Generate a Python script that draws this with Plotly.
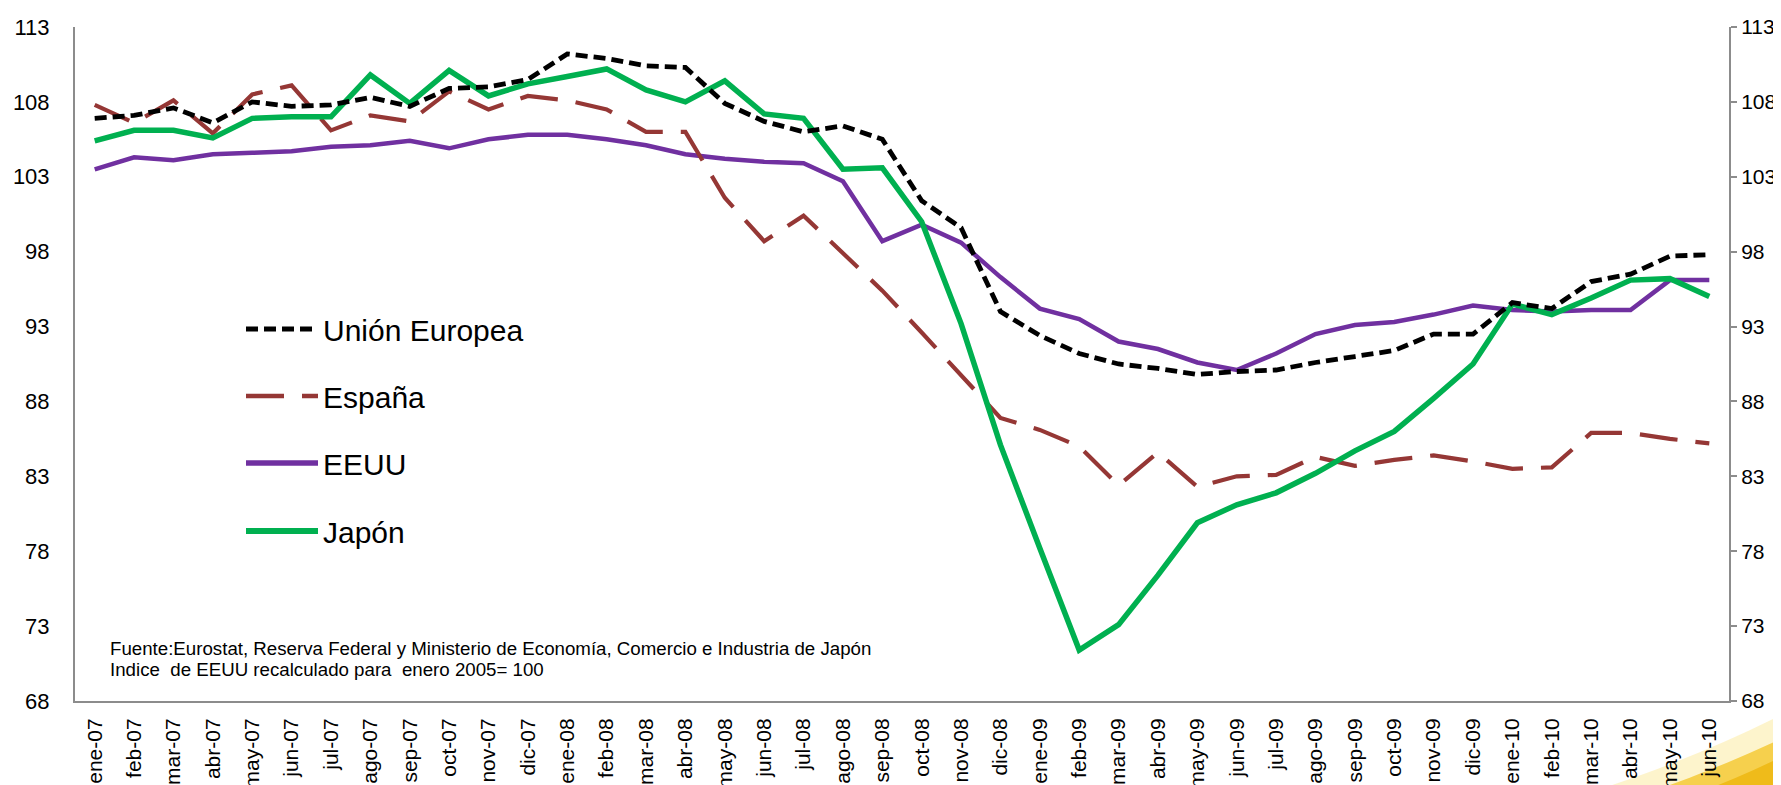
import plotly.graph_objects as go

months = ["ene-07","feb-07","mar-07","abr-07","may-07","jun-07","jul-07","ago-07","sep-07","oct-07","nov-07","dic-07",
          "ene-08","feb-08","mar-08","abr-08","may-08","jun-08","jul-08","ago-08","sep-08","oct-08","nov-08","dic-08",
          "ene-09","feb-09","mar-09","abr-09","may-09","jun-09","jul-09","ago-09","sep-09","oct-09","nov-09","dic-09",
          "ene-10","feb-10","mar-10","abr-10","may-10","jun-10"]

union_europea = [106.9,107.1,107.6,106.6,108.0,107.7,107.8,108.3,107.7,108.9,109.0,109.5,
                 111.2,110.9,110.4,110.3,107.9,106.7,106.0,106.4,105.5,101.4,99.6,94.0,
                 92.4,91.2,90.5,90.2,89.8,90.0,90.1,90.6,91.0,91.4,92.5,92.5,
                 94.6,94.2,96.0,96.5,97.7,97.8]
espana = [107.8,106.6,108.1,105.9,108.5,109.1,106.1,107.1,106.7,108.7,107.5,108.4,
          108.1,107.5,106.0,106.0,101.6,98.7,100.4,97.9,95.4,92.6,89.8,86.9,
          86.1,85.0,82.4,84.6,82.3,83.0,83.1,84.3,83.7,84.1,84.4,84.0,
          83.5,83.6,85.9,85.9,85.5,85.2]
eeuu = [103.5,104.3,104.1,104.5,104.6,104.7,105.0,105.1,105.4,104.9,105.5,105.8,
        105.8,105.5,105.1,104.5,104.2,104.0,103.9,102.7,98.7,99.8,98.6,96.3,
        94.2,93.5,92.0,91.5,90.6,90.1,91.2,92.5,93.1,93.3,93.8,94.4,
        94.1,94.0,94.1,94.1,96.1,96.1]
japon = [105.4,106.1,106.1,105.6,106.9,107.0,107.0,109.8,107.9,110.1,108.4,109.2,
         109.7,110.2,108.8,108.0,109.4,107.2,106.9,103.5,103.6,100.0,93.2,85.1,
         78.2,71.4,73.1,76.4,79.9,81.1,81.9,83.2,84.7,86.0,88.2,90.5,
         94.5,93.8,94.9,96.1,96.2,95.0]

y_ticks = [68, 73, 78, 83, 88, 93, 98, 103, 108, 113]
legend_names = ["Unión Europea", "España", "EEUU", "Japón"]
footnotes = ["Fuente:Eurostat, Reserva Federal y Ministerio de Economía, Comercio e Industria de Japón",
             "Indice  de EEUU recalculado para  enero 2005= 100"]

COL_EU = "#000000"
COL_ES = "#953735"
COL_US = "#7030A0"
COL_JP = "#00B050"
DASH_EU = "12px,6px"
DASH_ES = "38px,18px"
FONT = "Arial, Liberation Sans, sans-serif"
AXIS_COL = "#8C8C8C"

W, H = 1781, 785
L, R, T, B = 67, 60, 19, 92
pw, ph = W - L - R, H - T - B

def px2x(px):
    return (px - L) / pw

def px2y(py):
    return (H - B - py) / ph

fig = go.Figure()
fig.add_trace(go.Scatter(x=months, y=eeuu, mode="lines", name=legend_names[2],
                         line=dict(color=COL_US, width=4.5), showlegend=False))
fig.add_trace(go.Scatter(x=months, y=espana, mode="lines", name=legend_names[1],
                         line=dict(color=COL_ES, width=4.2, dash=DASH_ES), showlegend=False))
fig.add_trace(go.Scatter(x=months, y=japon, mode="lines", name=legend_names[3],
                         line=dict(color=COL_JP, width=5.5), showlegend=False))
fig.add_trace(go.Scatter(x=months, y=union_europea, mode="lines", name=legend_names[0],
                         line=dict(color=COL_EU, width=4.8, dash=DASH_EU), showlegend=False))
# invisible trace to activate the right-hand axis
fig.add_trace(go.Scatter(x=months, y=union_europea, mode="lines", yaxis="y2",
                         line=dict(width=0, color="rgba(0,0,0,0)"), hoverinfo="skip", showlegend=False))

shapes = []
# decorative yellow swoosh (bottom-right)
shapes.append(dict(type="path", xref="paper", yref="paper", layer="below",
                   path=f"M {px2x(1580)},{px2y(785)} Q {px2x(1690)},{px2y(750)} {px2x(1781)},{px2y(703)} L {px2x(1781)},{px2y(785)} Z",
                   fillcolor="rgba(251,236,170,0.6)", line=dict(width=0)))
shapes.append(dict(type="path", xref="paper", yref="paper", layer="below",
                   path=f"M {px2x(1640)},{px2y(785)} Q {px2x(1712)},{px2y(760)} {px2x(1781)},{px2y(727)} L {px2x(1781)},{px2y(785)} Z",
                   fillcolor="#F6D04D", line=dict(width=0)))
shapes.append(dict(type="path", xref="paper", yref="paper", layer="below",
                   path=f"M {px2x(1690)},{px2y(785)} Q {px2x(1740)},{px2y(766)} {px2x(1781)},{px2y(745)} L {px2x(1781)},{px2y(785)} Z",
                   fillcolor="#EFBB1A", line=dict(width=0)))

# manual legend
leg_y = [321, 388, 455, 523]
leg_style = [(COL_EU, 4.8, DASH_EU), (COL_ES, 4.5, DASH_ES), (COL_US, 5.5, "solid"), (COL_JP, 6, "solid")]
annotations = []
for name, yy, (c, w, d) in zip(legend_names, leg_y, leg_style):
    shapes.append(dict(type="line", xref="paper", yref="paper",
                       x0=px2x(238), x1=px2x(310), y0=px2y(yy), y1=px2y(yy),
                       line=dict(color=c, width=w, dash=d)))
    annotations.append(dict(xref="paper", yref="paper", x=px2x(313), y=px2y(yy + 1),
                            text=name, showarrow=False, xanchor="left", yanchor="middle",
                            font=dict(family=FONT, size=30, color="#000000")))

for txt, yy in zip(footnotes, [640, 661]):
    annotations.append(dict(xref="paper", yref="paper", x=px2x(100), y=px2y(yy),
                            text=txt, showarrow=False, xanchor="left", yanchor="middle",
                            font=dict(family=FONT, size=18.7, color="#000000")))

fig.update_layout(
    width=W, height=H,
    margin=dict(l=L, r=R, t=T, b=B, pad=0),
    paper_bgcolor="white", plot_bgcolor="rgba(0,0,0,0)",
    showlegend=False,
    font=dict(family=FONT, size=21, color="#000000"),
    xaxis=dict(type="category", range=[-0.5, len(months) - 0.5], automargin=False,
               showline=True, linecolor=AXIS_COL, linewidth=2,
               ticks="", showgrid=False, zeroline=False,
               tickangle=-90, tickfont=dict(family=FONT, size=21, color="#000000"),
               ticklabelstandoff=7),
    yaxis=dict(range=[68, 113], tickvals=y_ticks, automargin=False,
               showline=True, linecolor=AXIS_COL, linewidth=2,
               ticks="", showgrid=False, zeroline=False,
               tickfont=dict(family=FONT, size=22, color="#000000"), ticklabelstandoff=19),
    yaxis2=dict(range=[68, 113], tickvals=y_ticks, overlaying="y", side="right", automargin=False,
                showline=True, linecolor=AXIS_COL, linewidth=2,
                ticks="outside", ticklen=6, tickwidth=2, tickcolor=AXIS_COL,
                showgrid=False, zeroline=False,
                tickfont=dict(family=FONT, size=21, color="#000000"), ticklabelstandoff=0),
    shapes=shapes, annotations=annotations,
)

fig.write_html("out.html")
